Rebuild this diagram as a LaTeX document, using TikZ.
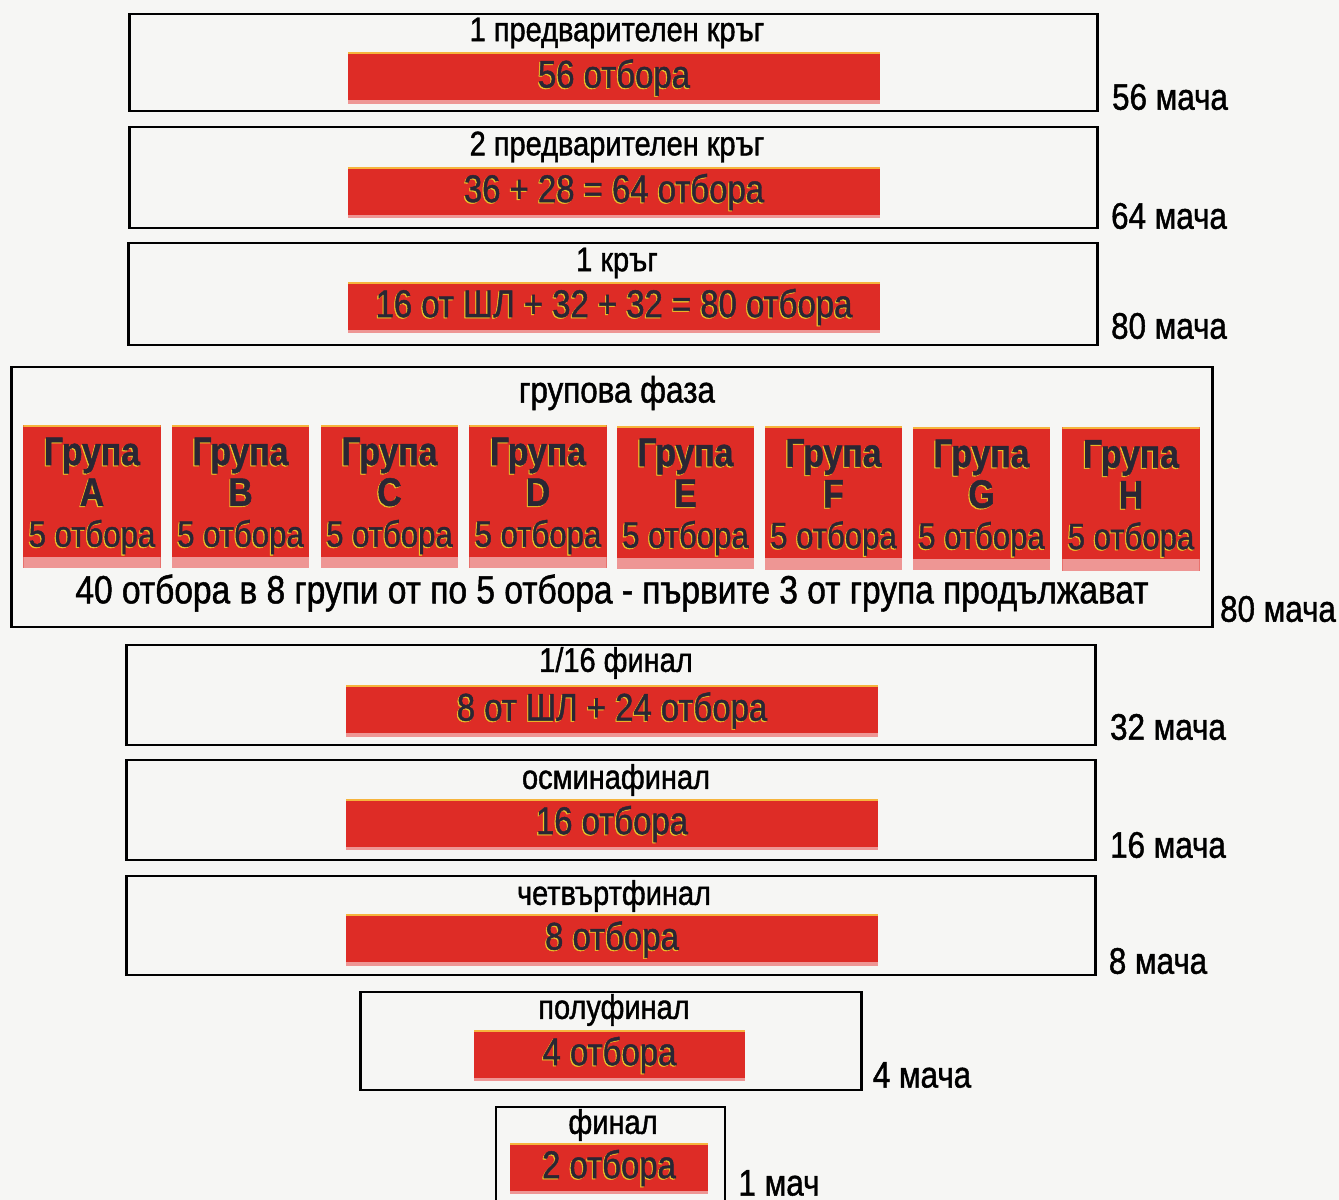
\documentclass[tikz,border=0pt]{standalone}
\usepackage{fontspec}
\setmainfont{Liberation Sans}[FakeStretch=0.85, FakeBold=1.2]
\usetikzlibrary{positioning}
\definecolor{paper}{RGB}{246,246,244}
\definecolor{barRed}{RGB}{222,44,38}
\definecolor{barPink}{RGB}{238,150,148}
\definecolor{barEdge}{RGB}{246,180,60}
\definecolor{inkDark}{RGB}{42,38,52}
\definecolor{glowY}{RGB}{236,196,40}

\newcommand{\glowtxt}[1]{\makebox[0pt][l]{\kern-0.3pt\raisebox{-0.3pt}{\textcolor{glowY}{#1}}}#1}

\begin{document}
\begin{tikzpicture}[x=0.01cm, y=-0.01cm,
  stage/.style={draw, line width=0.8pt, inner sep=0pt},
  bar/.style={fill=barRed, text=inkDark, inner sep=0pt, minimum width=5.32cm,
    minimum height=0.51cm, font=\fontsize{11}{12}\selectfont,
    path picture={
      \fill[barPink] (path picture bounding box.south west) rectangle ([yshift=1pt]path picture bounding box.south east);
      \fill[barEdge] (path picture bounding box.north west) rectangle ([yshift=-0.5pt]path picture bounding box.north east);}},
  group/.style={fill=barRed, text=inkDark, inner sep=0pt, minimum width=1.37cm,
    minimum height=1.43cm, align=center, font=\fontsize{11.3}{11.6}\selectfont\bfseries,
    path picture={
      \fill[barPink] (path picture bounding box.south west) rectangle ([yshift=3.2pt]path picture bounding box.south east);
      \fill[barEdge] (path picture bounding box.north west) rectangle ([yshift=-0.5pt]path picture bounding box.north east);}},
  title/.style={font=\fontsize{9.7}{11}\selectfont, inner sep=0pt},
  games/.style={font=\fontsize{10.5}{12}\selectfont, inner sep=0pt}]
  \useasboundingbox[fill=paper] (0,0) rectangle (1339,1200);

  % Preliminary rounds
  \node[stage, minimum width=9.67cm, minimum height=0.97cm] (pre1) at (613.5,62.5) {};
  \node[title] (pre1t) at (617,33) {1 предварителен кръг};
  \node[bar] (pre1b) at (614,78) {\glowtxt{56 отбора}};
  \node[games] (pre1g) at (1170,97) {56 мача};

  \node[stage, minimum width=9.67cm, minimum height=1.01cm] (pre2) at (613.5,177.5) {};
  \node[title] (pre2t) at (617,147) {2 предварителен кръг};
  \node[bar] (pre2b) at (614,192.5) {\glowtxt{36 + 28 = 64 отбора}};
  \node[games] (pre2g) at (1169,216) {64 мача};

  \node[stage, minimum width=9.68cm, minimum height=1.02cm] (rnd1) at (613,294) {};
  \node[title] (rnd1t) at (617,263) {1 кръг};
  \node[bar] (rnd1b) at (614,307.5) {\glowtxt{16 от ШЛ + 32 + 32 = 80 отбора}};
  \node[games] (rnd1g) at (1169,326) {80 мача};

  % Group stage
  \node[stage, minimum width=12.0cm, minimum height=2.6cm] (grp) at (612,497) {};
  \node[title, font=\fontsize{10.5}{12}\selectfont] (grpt) at (617,393) {групова фаза};
  \node[group] (gA) at (92,496.5) {\glowtxt{Група}\\\glowtxt{A}\\{\mdseries\fontsize{10.4}{11}\selectfont\glowtxt{5 отбора}}};
  \node[group] (gB) at (240.5,496.5) {\glowtxt{Група}\\\glowtxt{B}\\{\mdseries\fontsize{10.4}{11}\selectfont\glowtxt{5 отбора}}};
  \node[group] (gC) at (389.5,496.5) {\glowtxt{Група}\\\glowtxt{C}\\{\mdseries\fontsize{10.4}{11}\selectfont\glowtxt{5 отбора}}};
  \node[group] (gD) at (538,496.5) {\glowtxt{Група}\\\glowtxt{D}\\{\mdseries\fontsize{10.4}{11}\selectfont\glowtxt{5 отбора}}};
  \node[group] (gE) at (685.5,497.5) {\glowtxt{Група}\\\glowtxt{E}\\{\mdseries\fontsize{10.4}{11}\selectfont\glowtxt{5 отбора}}};
  \node[group] (gF) at (833.5,498) {\glowtxt{Група}\\\glowtxt{F}\\{\mdseries\fontsize{10.4}{11}\selectfont\glowtxt{5 отбора}}};
  \node[group] (gG) at (981.5,498.5) {\glowtxt{Група}\\\glowtxt{G}\\{\mdseries\fontsize{10.4}{11}\selectfont\glowtxt{5 отбора}}};
  \node[group] (gH) at (1131,499) {\glowtxt{Група}\\\glowtxt{H}\\{\mdseries\fontsize{10.4}{11}\selectfont\glowtxt{5 отбора}}};
  \node[games, font=\fontsize{11.2}{12}\selectfont] (grpn) at (612,593) {40 отбора в 8 групи от по 5 отбора - първите 3 от група продължават};
  \node[games] (grpg) at (1278,609) {80 мача};

  % Knockout stage
  \node[stage, minimum width=9.68cm, minimum height=1.0cm] (r32) at (611,695) {};
  \node[title] (r32t) at (616,663) {1/16 финал};
  \node[bar] (r32b) at (612,711) {\glowtxt{8 от ШЛ + 24 отбора}};
  \node[games] (r32g) at (1168,727) {32 мача};

  \node[stage, minimum width=9.68cm, minimum height=1.0cm] (r16) at (611,810) {};
  \node[title] (r16t) at (616,780) {осминафинал};
  \node[bar] (r16b) at (612,824.5) {\glowtxt{16 отбора}};
  \node[games] (r16g) at (1168,845) {16 мача};

  \node[stage, minimum width=9.68cm, minimum height=0.99cm] (qf) at (611,925.5) {};
  \node[title] (qft) at (614,896) {четвъртфинал};
  \node[bar] (qfb) at (612,940) {\glowtxt{8 отбора}};
  \node[games] (qfg) at (1158,961) {8 мача};

  \node[stage, minimum width=5.0cm, minimum height=0.98cm] (sf) at (611,1041) {};
  \node[title] (sft) at (614,1010) {полуфинал};
  \node[bar, minimum width=2.71cm] (sfb) at (609.5,1055.5) {\glowtxt{4 отбора}};
  \node[games] (sfg) at (922,1075) {4 мача};

  \node[stage, minimum width=2.29cm, minimum height=1.03cm] (fin) at (610.5,1158.5) {};
  \node[title] (fint) at (613,1125) {финал};
  \node[bar, minimum width=1.98cm] (finb) at (609,1168.5) {\glowtxt{2 отбора}};
  \node[games] (fing) at (779,1183) {1 мач};
\end{tikzpicture}
\end{document}
